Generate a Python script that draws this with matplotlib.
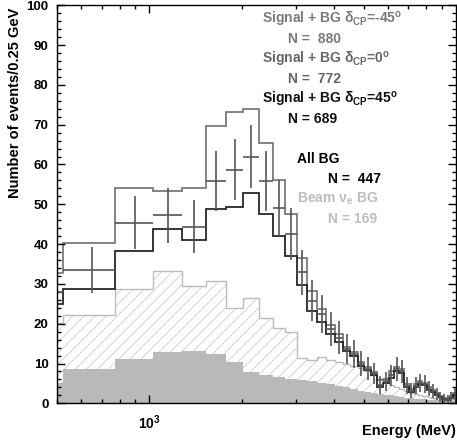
import numpy as np
import matplotlib
matplotlib.use('Agg')
import matplotlib.pyplot as plt
from matplotlib.ticker import LogLocator, MultipleLocator, NullFormatter, FixedFormatter, FixedLocator

plt.rcParams['font.family'] = ['Liberation Sans', 'DejaVu Sans']
plt.rcParams['font.weight'] = 'bold'
plt.rcParams['mathtext.fontset'] = 'custom'
plt.rcParams['mathtext.rm'] = 'Liberation Sans:bold'
plt.rcParams['mathtext.it'] = 'Liberation Sans:bold'
plt.rcParams['mathtext.bf'] = 'Liberation Sans:bold'
plt.rcParams['mathtext.default'] = 'rm'
plt.rcParams['hatch.linewidth'] = 0.6

# bins of 0.25 GeV, first one only partly visible
bin_lo = 275.0     # MeV
bin_width = 250.0  # MeV

# signal + BG, delta_CP = -45 deg (N = 880)
sig_m45 = [32.7, 40.2, 54.0, 53.3, 54.0, 69.6, 73.3, 74.0, 65.3, 56.0,
           47.5, 36.5, 28.2, 23.8, 19.7, 17.3, 14.2, 12.9, 10.4, 9.2,
           7.9, 5.8, 6.0, 8.0, 9.2, 8.6, 4.8, 3.6, 4.8, 5.5,
           5.2, 4.0, 3.3, 2.6, 1.8, 1.4, 1.2, 1.8, 2.6]
# signal + BG, delta_CP = 0 deg (N = 772), drawn with errors
sig_0 = [28.0, 33.4, 45.4, 47.2, 44.3, 55.8, 58.7, 62.0, 55.8, 49.0,
         42.5, 32.9, 25.8, 22.5, 18.7, 16.5, 13.6, 12.3, 10.0, 8.7,
         7.5, 4.6, 5.5, 7.0, 8.6, 8.0, 4.4, 3.2, 4.4, 5.2,
         4.8, 3.7, 3.0, 2.4, 1.6, 1.2, 1.0, 1.5, 2.3]
# signal + BG, delta_CP = 45 deg (N = 689)
sig_p45 = [25.0, 28.7, 38.2, 43.7, 41.0, 48.8, 49.4, 52.8, 47.5, 42.1,
           37.1, 29.6, 23.3, 20.4, 17.4, 15.4, 13.1, 11.8, 9.4, 8.3,
           7.2, 4.0, 5.0, 6.3, 8.0, 7.5, 4.0, 2.9, 4.1, 4.9,
           4.5, 3.4, 2.8, 2.2, 1.5, 1.1, 0.9, 1.3, 2.1]
# all BG (N = 447)
all_bg = [20.2, 22.2, 28.6, 33.3, 29.5, 30.7, 23.9, 26.5, 21.5, 19.0,
          18.0, 11.3, 11.0, 11.7, 11.0, 10.5, 10.0, 9.4, 8.8, 8.0,
          7.2, 6.2, 5.3, 4.6, 4.0, 3.5, 3.0, 2.6, 2.3, 2.0,
          1.8, 1.6, 1.4, 1.3, 1.2, 1.1, 1.0, 1.0, 0.9]
# beam nu_e BG (N = 169)
beam_bg = [5.2, 8.5, 11.1, 12.8, 13.2, 12.5, 10.5, 7.9, 7.1, 6.7,
           6.2, 5.8, 5.5, 5.2, 4.8, 4.4, 4.0, 3.6, 3.2, 2.8,
           2.5, 2.3, 2.1, 2.0, 1.8, 1.6, 1.4, 1.3, 1.2, 1.1,
           1.0, 0.9, 0.9, 0.8, 0.8, 0.7, 0.7, 0.6, 0.6]

nb = len(sig_0)
edges = bin_lo + bin_width * np.arange(nb + 1)
centers = 0.5 * (edges[:-1] + edges[1:])

fig = plt.figure(figsize=(4.57, 4.44), dpi=100)
ax = fig.add_axes([57/457, 40.7/444, 399/457, 398/444])

ax.stairs(all_bg, edges, fill=True, facecolor='none', edgecolor='#cdcdcd',
          hatch='///', linewidth=0)
ax.stairs(all_bg, edges, color='#bcbcbc', linewidth=1.0)
ax.stairs(beam_bg, edges, fill=True, color='#b9b9b9', linewidth=0)
ax.stairs(sig_m45, edges, color='#7a7a7a', linewidth=1.3)
ax.stairs(sig_p45, edges, color='#262626', linewidth=1.3)
ax.errorbar(centers, sig_0, xerr=bin_width/2, yerr=np.sqrt(sig_0), fmt='none',
            ecolor='#555555', elinewidth=1.2, capsize=0)

ax.set_xscale('log')
ax.set_xlim(500, 10000)
ax.set_ylim(0, 100)

ax.xaxis.set_major_locator(FixedLocator([1000]))
ax.xaxis.set_major_formatter(FixedFormatter([r'$\mathbf{10^{3}}$']))
ax.xaxis.set_minor_locator(LogLocator(base=10, subs=np.arange(2, 10)))
ax.xaxis.set_minor_formatter(NullFormatter())
ax.yaxis.set_major_locator(MultipleLocator(10))
ax.yaxis.set_minor_locator(MultipleLocator(2))

ax.tick_params(which='both', direction='in', top=True, right=True, width=1.0)
ax.tick_params(which='major', length=6, labelsize=9.5)
ax.tick_params(which='minor', length=3)
ax.tick_params(axis='x', which='major', pad=7, labelsize=10)
ax.tick_params(axis='y', which='major', pad=6)
for sp in ax.spines.values():
    sp.set_linewidth(1.0)

ax.set_ylabel('Number of events/0.25 GeV', fontsize=10.5, fontweight='bold',
              ha='right', va='center')
ax.yaxis.set_label_coords(-(57 - 15) / 399, 1 - 2 / 398)
fig.text(456/457, 1 - 431/444, 'Energy (MeV)', ha='right', va='center',
         fontsize=10.5, fontweight='bold')

def label(x, y, s, c):
    fig.text(x/457, 1 - y/444, s, ha='left', va='center', fontsize=10,
             fontweight='bold', color=c)

label(262, 19, r'Signal + BG $\delta_{CP}$=-45$^{o}$', '#7a7a7a')
label(288, 39, 'N =  880', '#7a7a7a')
label(262, 59, r'Signal + BG $\delta_{CP}$=0$^{o}$', '#666666')
label(288, 79, 'N =  772', '#666666')
label(262, 99, r'Signal + BG $\delta_{CP}$=45$^{o}$', '#111111')
label(288, 119, 'N = 689', '#111111')
label(297, 159, 'All BG', '#000000')
label(328, 179, 'N =  447', '#000000')
label(297, 199, r'Beam $\nu_{e}$ BG', '#bdbdbd')
label(328, 219, 'N = 169', '#bdbdbd')

fig.savefig('out.png', dpi=100)
